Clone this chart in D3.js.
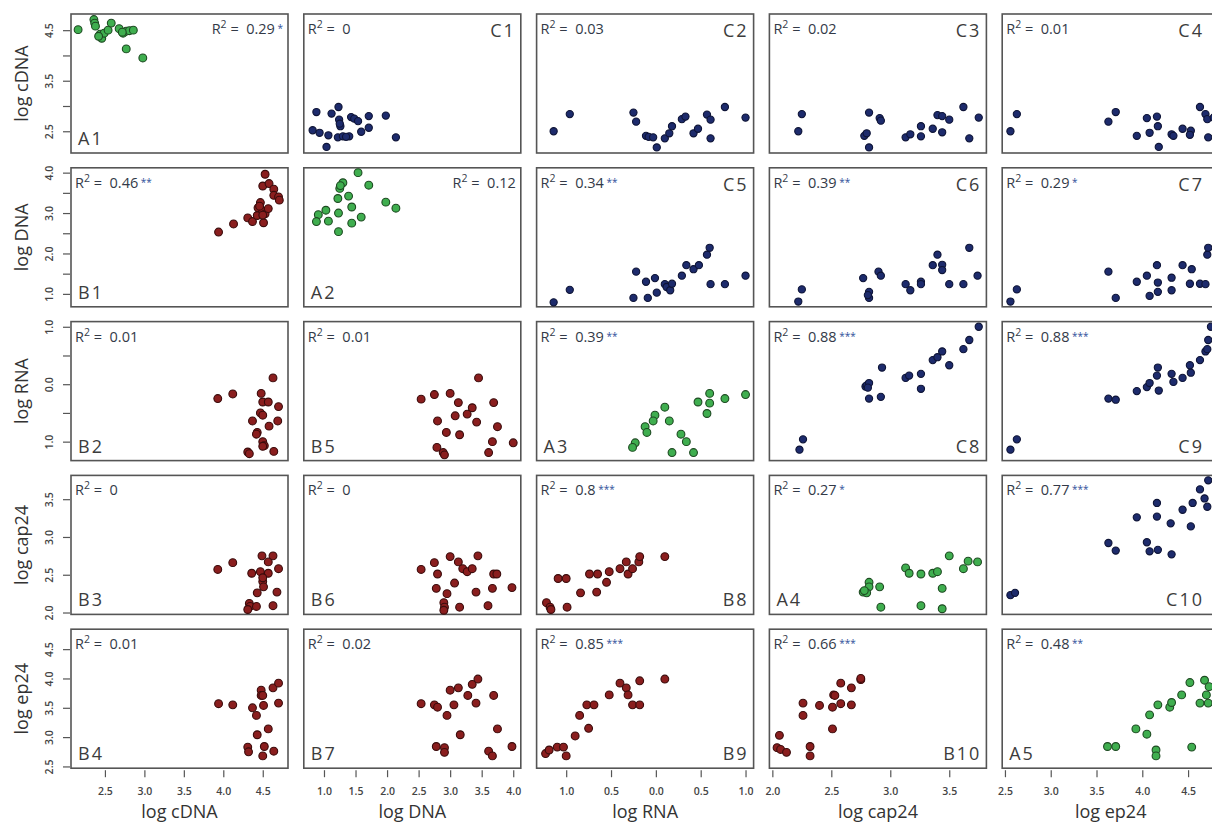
<!DOCTYPE html>
<html>
<head>
<meta charset="utf-8">
<script src="https://cdn.jsdelivr.net/npm/d3@7"></script>
<style>
  body { margin: 0; background: #fff; }
  svg { display: block; font-family: "Open Sans", sans-serif; }
</style>
</head>
<body>
<svg id="chart" width="1212" height="822"></svg>
<script>
// variables, axis ranges and ticks
const variables = ["cDNA", "DNA", "RNA", "cap24", "ep24"]
const domains = [[2.07, 4.82], [0.68, 4.12], [-1.33, 1.09], [1.975, 3.815], [2.47, 4.84]]
const yTicks = [[2.5, 3, 3.5, 4, 4.5], [1, 1.5, 2, 2.5, 3, 3.5, 4], [-1, -0.5, 0, 0.5, 1], [2, 2.5, 3, 3.5], [2.5, 3, 3.5, 4, 4.5]]
const yTickLabels = [["2.5", "", "3.5", "", "4.5"], ["1.0", "", "2.0", "", "3.0", "", "4.0"], ["1.0", "", "0.0", "", "1.0"], ["2.0", "2.5", "3.0", "3.5"], ["2.5", "3.0", "3.5", "4.0", "4.5"]]
const xTicks = [[2.5, 3, 3.5, 4, 4.5], [1, 1.5, 2, 2.5, 3, 3.5, 4], [-1, -0.5, 0, 0.5, 1], [2, 2.5, 3, 3.5], [2.5, 3, 3.5, 4, 4.5]]
const xTickLabels = [["2.5", "3.0", "3.5", "4.0", "4.5"], ["1.0", "1.5", "2.0", "2.5", "3.0", "3.5", "4.0"], ["1.0", "0.5", "0.0", "0.5", "1.0"], ["2.0", "2.5", "3.0", "3.5"], ["2.5", "3.0", "3.5", "4.0", "4.5"]]

// panel grid
const panelNames = [
  ["A1", "C1", "C2", "C3", "C4"],
  ["B1", "A2", "C5", "C6", "C7"],
  ["B2", "B5", "A3", "C8", "C9"],
  ["B3", "B6", "B8", "A4", "C10"],
  ["B4", "B7", "B9", "B10", "A5"]]
const rSquared = [
  ["0.29", "0", "0.03", "0.02", "0.01"],
  ["0.46", "0.12", "0.34", "0.39", "0.29"],
  ["0.01", "0.01", "0.39", "0.88", "0.88"],
  ["0", "0", "0.8", "0.27", "0.77"],
  ["0.01", "0.02", "0.85", "0.66", "0.48"]]
const stars = [
  ["*", "", "", "", ""],
  ["**", "", "**", "**", "*"],
  ["", "", "**", "***", "***"],
  ["", "", "***", "*", "***"],
  ["", "", "***", "***", "**"]]
const labelTopRight = ["C1", "C2", "C3", "C4", "C5", "C6", "C7"]
const labelBottomRight = ["C8", "C9", "C10", "B8", "B9", "B10"]
const r2TopRight = ["A1", "A2"]

// points [x, y] for every panel
const A1 = [[2.16,4.51],[2.36,4.71],[2.37,4.64],[2.38,4.58],[2.44,4.42],[2.46,4.34],[2.49,4.44],[2.54,4.50],[2.58,4.64],[2.68,4.53],[2.73,4.44],[2.77,4.48],[2.81,4.49],[2.86,4.50],[2.77,4.13],[2.98,3.95],[2.42,4.38],[2.72,4.46]]
const A2 = [[1.54,4.00],[1.30,3.75],[1.25,3.61],[1.71,3.69],[1.22,3.36],[1.39,3.42],[1.44,3.15],[1.03,3.07],[0.91,2.96],[0.88,2.79],[1.07,2.80],[1.23,3.00],[1.44,2.75],[1.59,2.90],[1.23,2.54],[1.98,3.27],[2.14,3.12],[1.26,3.68]]
const A3 = [[1.00,-0.18],[0.60,-0.16],[0.77,-0.25],[0.47,-0.31],[0.60,-0.33],[0.57,-0.51],[0.10,-0.40],[-0.01,-0.54],[-0.03,-0.64],[0.15,-0.64],[-0.12,-0.74],[-0.10,-0.84],[0.28,-0.87],[0.34,-1.00],[0.42,-1.19],[0.18,-1.19],[-0.23,-1.02],[-0.26,-1.10]]
const A4 = [[2.82,2.40],[2.82,2.34],[2.77,2.27],[2.80,2.26],[2.78,2.29],[2.91,2.34],[2.92,2.07],[3.13,2.59],[3.16,2.52],[3.26,2.51],[3.36,2.52],[3.40,2.54],[3.50,2.75],[3.62,2.58],[3.66,2.68],[3.74,2.67],[3.44,2.32],[3.26,2.09],[3.44,2.05]]
const A5 = [[3.62,2.84],[3.71,2.84],[3.93,3.14],[4.05,3.05],[4.08,3.38],[4.17,3.55],[4.15,2.78],[4.15,2.68],[4.30,3.51],[4.32,3.59],[4.43,3.72],[4.52,3.93],[4.54,2.83],[4.68,3.97],[4.70,3.72],[4.63,3.58],[4.72,3.58],[4.73,3.86]]

const B1 = [[3.94,2.53],[4.13,2.73],[4.31,2.88],[4.37,2.79],[4.43,2.94],[4.44,3.13],[4.47,3.26],[4.50,3.05],[4.51,2.76],[4.53,2.98],[4.50,3.67],[4.53,3.96],[4.58,3.73],[4.57,3.11],[4.64,3.59],[4.64,3.44],[4.70,3.40],[4.71,3.32],[4.46,3.17],[4.50,2.95]]
const B2 = [[3.93,-0.25],[4.12,-0.17],[4.48,-0.16],[4.50,-0.31],[4.57,-0.31],[4.63,0.11],[4.70,-0.39],[4.47,-0.50],[4.50,-0.54],[4.37,-0.64],[4.58,-0.73],[4.69,-0.64],[4.43,-0.84],[4.42,-0.87],[4.50,-1.00],[4.52,-1.07],[4.31,-1.18],[4.33,-1.21],[4.64,-1.17],[4.50,-1.08]]
const B3 = [[3.93,2.57],[4.12,2.66],[4.36,2.52],[4.47,2.54],[4.49,2.75],[4.57,2.67],[4.63,2.75],[4.57,2.52],[4.70,2.58],[4.50,2.41],[4.51,2.34],[4.43,2.26],[4.50,2.46],[4.68,2.27],[4.33,2.12],[4.34,2.08],[4.31,2.04],[4.42,2.08],[4.63,2.09]]
const B4 = [[3.94,3.57],[4.12,3.55],[4.48,3.80],[4.63,3.84],[4.70,3.92],[4.48,3.71],[4.50,3.71],[4.70,3.58],[4.51,3.54],[4.37,3.50],[4.42,3.37],[4.57,3.14],[4.43,3.04],[4.31,2.83],[4.32,2.75],[4.52,2.84],[4.64,2.76],[4.50,2.68]]
const B5 = [[3.45,0.11],[2.54,-0.26],[2.75,-0.18],[3.00,-0.16],[3.13,-0.32],[3.35,-0.41],[3.69,-0.32],[3.08,-0.55],[3.27,-0.52],[2.80,-0.64],[3.42,-0.66],[3.75,-0.74],[2.94,-0.84],[3.15,-0.88],[2.79,-1.10],[2.89,-1.19],[2.91,-1.23],[3.67,-1.00],[3.61,-1.19],[4.00,-1.02]]
const B6 = [[2.54,2.57],[2.75,2.66],[2.80,2.51],[3.00,2.74],[3.13,2.67],[3.20,2.58],[3.27,2.54],[3.35,2.58],[3.44,2.75],[3.69,2.51],[3.74,2.51],[2.78,2.32],[3.07,2.39],[2.95,2.25],[3.41,2.27],[3.67,2.32],[3.98,2.33],[2.90,2.13],[2.91,2.07],[2.90,2.03],[3.15,2.07],[3.60,2.09]]
const B7 = [[2.54,3.57],[2.75,3.55],[2.80,3.51],[2.95,3.37],[3.00,3.80],[3.06,3.55],[3.13,3.84],[3.28,3.71],[3.35,3.90],[3.44,3.99],[3.41,3.58],[3.69,3.71],[3.75,3.14],[3.16,3.04],[2.78,2.84],[2.91,2.82],[2.91,2.74],[3.61,2.76],[3.67,2.68],[3.98,2.84]]
const B8 = [[-1.22,2.13],[-1.18,2.07],[-1.17,2.04],[-1.09,2.45],[-1.00,2.45],[-0.99,2.07],[-0.84,2.26],[-0.74,2.51],[-0.65,2.51],[-0.66,2.27],[-0.55,2.40],[-0.52,2.54],[-0.40,2.58],[-0.33,2.67],[-0.31,2.51],[-0.26,2.58],[-0.19,2.67],[-0.18,2.74],[0.10,2.74]]
const B9 = [[-1.23,2.72],[-1.19,2.78],[-1.10,2.83],[-1.03,2.83],[-1.00,2.68],[-0.90,3.02],[-0.85,3.37],[-0.75,3.15],[-0.77,3.55],[-0.69,3.55],[-0.52,3.72],[-0.40,3.92],[-0.33,3.84],[-0.31,3.72],[-0.26,3.55],[-0.18,3.96],[-0.18,3.55],[0.10,3.99]]
const B10 = [[2.06,3.03],[2.04,2.82],[2.07,2.79],[2.12,2.74],[2.26,3.37],[2.26,3.58],[2.32,2.84],[2.32,2.68],[2.40,3.54],[2.51,3.14],[2.51,3.51],[2.52,3.72],[2.53,3.71],[2.58,3.92],[2.58,3.57],[2.67,3.84],[2.67,3.55],[2.75,3.98],[2.75,4.00]]

const C1 = [[0.88,2.88],[0.82,2.52],[0.93,2.47],[1.07,2.42],[1.04,2.19],[1.12,2.85],[1.23,2.98],[1.24,2.73],[1.26,2.60],[1.22,2.38],[1.30,2.40],[1.40,2.40],[1.43,2.78],[1.48,2.75],[1.54,2.70],[1.59,2.49],[1.71,2.80],[1.71,2.57],[1.98,2.81],[2.14,2.38],[1.25,2.65],[1.35,2.39]]
const C2 = [[-1.14,2.50],[-0.96,2.84],[-0.25,2.87],[-0.22,2.69],[-0.11,2.41],[-0.08,2.39],[-0.03,2.38],[0.01,2.18],[0.10,2.36],[0.15,2.46],[0.18,2.60],[0.29,2.74],[0.33,2.79],[0.42,2.46],[0.47,2.55],[0.57,2.83],[0.61,2.73],[0.61,2.36],[0.77,2.98],[1.00,2.77]]
const C3 = [[2.25,2.84],[2.22,2.50],[2.82,2.87],[2.91,2.76],[2.92,2.71],[2.78,2.41],[2.80,2.46],[2.82,2.18],[3.13,2.38],[3.17,2.44],[3.26,2.60],[3.26,2.40],[3.36,2.55],[3.40,2.82],[3.44,2.80],[3.50,2.73],[3.44,2.48],[3.62,2.98],[3.75,2.77],[3.67,2.36]]
const C4 = [[2.63,2.84],[2.56,2.50],[3.63,2.69],[3.71,2.88],[4.05,2.76],[4.16,2.79],[4.17,2.60],[4.08,2.47],[3.94,2.41],[4.18,2.19],[4.32,2.44],[4.34,2.41],[4.44,2.55],[4.53,2.51],[4.52,2.43],[4.63,2.98],[4.69,2.84],[4.71,2.74],[4.72,2.38],[4.78,2.77]]
const C5 = [[-1.14,0.79],[-0.96,1.10],[-0.22,1.55],[-0.25,0.90],[-0.11,1.30],[-0.09,0.90],[-0.01,1.39],[0.01,1.03],[0.10,1.24],[0.12,1.17],[0.16,1.09],[0.18,1.25],[0.29,1.45],[0.34,1.71],[0.42,1.61],[0.48,1.71],[0.57,1.97],[0.60,2.14],[0.61,1.24],[0.77,1.24],[1.00,1.45]]
const C6 = [[2.25,1.11],[2.22,0.81],[2.77,1.39],[2.82,1.05],[2.82,0.90],[2.81,0.97],[2.90,1.55],[2.92,1.45],[3.13,1.24],[3.17,1.09],[3.26,1.30],[3.26,1.24],[3.36,1.71],[3.40,1.97],[3.44,1.72],[3.44,1.59],[3.50,1.24],[3.62,1.24],[3.67,2.14],[3.74,1.45]]
const C7 = [[2.63,1.11],[2.56,0.81],[3.63,1.55],[3.71,0.90],[3.94,1.30],[4.05,1.45],[4.08,0.95],[4.16,1.71],[4.17,1.28],[4.17,1.05],[4.32,1.09],[4.32,1.40],[4.44,1.71],[4.54,1.61],[4.52,1.25],[4.63,1.25],[4.69,1.24],[4.71,1.97],[4.72,2.14]]
const C8 = [[2.23,-1.14],[2.26,-0.96],[2.79,-0.04],[2.80,-0.02],[2.82,0.02],[2.81,-0.06],[2.93,0.29],[2.82,-0.25],[2.92,-0.22],[3.13,0.11],[3.16,0.15],[3.26,0.18],[3.26,-0.08],[3.36,0.42],[3.40,0.47],[3.44,0.57],[3.50,0.33],[3.62,0.61],[3.67,0.77],[3.75,1.00]]
const C9 = [[2.56,-1.14],[2.63,-0.96],[3.63,-0.25],[3.71,-0.27],[3.94,-0.12],[4.05,-0.05],[4.08,0.02],[4.16,0.15],[4.17,0.29],[4.18,-0.11],[4.32,0.18],[4.34,0.04],[4.44,0.11],[4.52,0.33],[4.53,0.20],[4.63,0.42],[4.69,0.57],[4.71,0.61],[4.72,0.77],[4.75,1.00]]
const C10 = [[2.56,2.23],[2.61,2.26],[3.63,2.92],[3.71,2.82],[4.05,2.93],[4.08,2.81],[4.17,2.83],[4.32,2.77],[4.16,3.27],[4.16,3.45],[3.94,3.26],[4.31,3.18],[4.44,3.36],[4.53,3.14],[4.55,3.45],[4.63,3.63],[4.68,3.51],[4.71,3.40],[4.72,3.75]]

const panelPoints = {A1, A2, A3, A4, A5, B1, B2, B3, B4, B5, B6, B7, B8, B9, B10, C1, C2, C3, C4, C5, C6, C7, C8, C9, C10}

// layout
const chartWidth = 1212
const panelWidth = 217
const panelHeight = 139
const colX = d3.range(5).map(i => 71 + i * 232.8)
const rowY = d3.range(5).map(j => 14 + j * 153.8)
const groupStyle = {
  A: {fill: "#3fae4f", stroke: "#1e4a22", r: 3.9},
  B: {fill: "#8a1e1e", stroke: "#3a0c0c", r: 3.9},
  C: {fill: "#1d2b6c", stroke: "#0e1436", r: 3.6}
}
const textColor = "#333a48"

const svg = d3.select("#chart")

const xScales = colX.map((x0, i) => d3.scaleLinear().domain(domains[i]).range([x0, x0 + panelWidth]))
const yScales = rowY.map((y0, j) => d3.scaleLinear().domain(domains[j]).range([y0 + panelHeight, y0]))

panelNames.forEach((row, j) => {
  row.forEach((name, i) => {
    const x = xScales[i]
    const y = yScales[j]
    const x0 = colX[i], y0 = rowY[j]
    // right edge of the panel that is still inside the picture
    const x1 = Math.min(x0 + panelWidth, chartWidth - 3)
    const g = svg.append("g").attr("class", "panel")
    const style = groupStyle[name[0]]

    g.append("rect")
      .attr("x", x0).attr("y", y0)
      .attr("width", panelWidth).attr("height", panelHeight)
      .attr("fill", "none")
      .attr("stroke", "#555")
      .attr("stroke-width", 1.6)

    g.selectAll("circle")
      .data(panelPoints[name])
      .join("circle")
      .attr("cx", d => x(d[0]))
      .attr("cy", d => y(d[1]))
      .attr("r", style.r)
      .attr("fill", style.fill)
      .attr("stroke", style.stroke)
      .attr("stroke-width", 1.1)

    // R squared text
    const onRight = r2TopRight.includes(name)
    const r2 = g.append("text")
      .attr("x", onRight ? x1 - 5 : x0 + 4)
      .attr("y", y0 + 20)
      .attr("text-anchor", onRight ? "end" : "start")
      .attr("fill", textColor)
      .attr("font-size", 14.5)
    r2.append("tspan").text("R")
    r2.append("tspan").attr("dy", -6).attr("font-size", 10.5).text("2")
    r2.append("tspan").attr("dy", 6).attr("xml:space", "preserve").text(" =  " + rSquared[j][i])
    if (stars[j][i]) {
      r2.append("tspan").attr("dy", -2).attr("font-size", 10).attr("fill", "#2f4f9a").text(" " + stars[j][i])
    }

    // panel label
    let lx = x0 + 7, ly = y0 + panelHeight - 8, anchor = "start"
    if (labelTopRight.includes(name)) { lx = x1 - 5; ly = y0 + 23; anchor = "end" }
    if (labelBottomRight.includes(name)) { lx = x1 - 5; anchor = "end" }
    g.append("text")
      .attr("x", lx).attr("y", ly)
      .attr("text-anchor", anchor)
      .attr("fill", "#3c3c3c")
      .attr("font-size", 18)
      .attr("letter-spacing", 2)
      .text(name)
  })
})

// left axes
yScales.forEach((y, j) => {
  const axis = d3.axisLeft(y)
    .tickValues(yTicks[j])
    .tickSize(7)
    .tickFormat((d, k) => yTickLabels[j][k])
  const g = svg.append("g")
    .attr("transform", `translate(${colX[0] - 1},0)`)
    .call(axis)
  g.select(".domain").remove()
  g.selectAll(".tick line").attr("stroke", "#555").attr("stroke-width", 1.2)
  g.selectAll(".tick text")
    .attr("transform", "rotate(-90)")
    .attr("x", 0).attr("y", -17).attr("dy", 0)
    .attr("text-anchor", "middle")
    .attr("font-size", 10.5)
    .attr("font-weight", 600)
    .attr("font-family", "'Open Sans', sans-serif")
    .attr("fill", "#444")

  svg.append("text")
    .attr("transform", `translate(28,${rowY[j] + panelHeight / 2}) rotate(-90)`)
    .attr("text-anchor", "middle")
    .attr("font-size", 18)
    .attr("fill", "#333")
    .text("log " + variables[j])
})

// bottom axes
xScales.forEach((x, i) => {
  const axis = d3.axisBottom(x)
    .tickValues(xTicks[i])
    .tickSize(7)
    .tickPadding(10)
    .tickFormat((d, k) => xTickLabels[i][k])
  const g = svg.append("g")
    .attr("transform", `translate(0,${rowY[4] + panelHeight + 2})`)
    .call(axis)
  g.select(".domain").remove()
  g.selectAll(".tick line").attr("stroke", "#555").attr("stroke-width", 1.2)
  g.selectAll(".tick text")
    .attr("font-size", 10.5)
    .attr("font-weight", 600)
    .attr("font-family", "'Open Sans', sans-serif")
    .attr("fill", "#444")

  svg.append("text")
    .attr("x", colX[i] + panelWidth / 2)
    .attr("y", 818)
    .attr("text-anchor", "middle")
    .attr("font-size", 18)
    .attr("fill", "#333")
    .text("log " + variables[i])
})
</script>
</body>
</html>
